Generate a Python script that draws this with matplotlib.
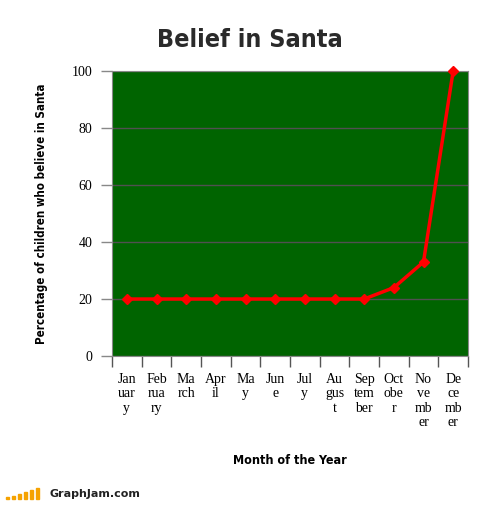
import matplotlib
matplotlib.use("Agg")
import matplotlib.pyplot as plt
import numpy as np
from matplotlib.patches import Rectangle
from matplotlib import font_manager

# chart data
months = ["Jan\nuar\ny", "Feb\nrua\nry", "Ma\nrch", "Apr\nil", "Ma\ny", "Jun\ne",
          "Jul\ny", "Au\ngus\nt", "Sep\ntem\nber", "Oct\nobe\nr", "No\nve\nmb\ner",
          "De\nce\nmb\ner"]
belief = [20, 20, 20, 20, 20, 20, 20, 20, 20, 24, 33, 100]
y_ticks = [0, 20, 40, 60, 80, 100]

serif = ["Liberation Serif", "DejaVu Serif"]
names = {f.name for f in font_manager.fontManager.ttflist}
narrow = "Liberation Sans Narrow" if "Liberation Sans Narrow" in names else "DejaVu Sans"

fig = plt.figure(figsize=(5, 5.05), dpi=100)
ax = fig.add_axes([0.224, 0.295, 0.712, 0.5644])
ax.set_facecolor("#006400")

x = np.arange(len(belief)) + 0.5
ax.plot(x, belief, color="#ff0000", lw=2.5, marker="D", ms=5.5, zorder=3, clip_on=False)

ax.set_xlim(0, len(belief))
ax.set_ylim(0, 100)

# category ticks at the boundaries, labels at the centers
ax.set_xticks(np.arange(len(belief) + 1))
ax.set_xticklabels([])
ax.set_xticks(x, minor=True)
ax.set_xticklabels(months, minor=True, fontfamily=serif, fontsize=10,
                   linespacing=1.15, va="top")
ax.tick_params(axis="x", which="major", length=8, width=1, color="#555555")
ax.tick_params(axis="x", which="minor", length=0, pad=12)

ax.set_yticks(y_ticks)
ax.set_yticklabels([str(v) for v in y_ticks], fontfamily=serif, fontsize=10)
ax.tick_params(axis="y", length=8, width=1, color="#888888", pad=6)
ax.yaxis.grid(True, color="#505050", lw=1)
ax.set_axisbelow(True)

for s in ax.spines.values():
    s.set_color("#888888")

ax.set_ylabel("Percentage of children who believe in Santa", fontfamily=narrow,
              fontstretch="condensed", fontweight="bold", fontsize=8.3)
ax.set_xlabel("Month of the Year", fontfamily=narrow, fontstretch="condensed",
              fontweight="bold", fontsize=9)
ax.xaxis.set_label_coords(0.5, -0.345)
ax.yaxis.set_label_coords(-0.18, 0.5)

fig.text(0.5, 0.92, "Belief in Santa", ha="center", va="center",
         fontfamily=narrow, fontstretch="condensed", fontweight="heavy",
         fontsize=18, color="#2a2a2a")

# GraphJam footer
bar_h = [2, 3, 5, 7, 9, 11]
for i, h in enumerate(bar_h):
    fig.patches.append(Rectangle((0.012 + i * 0.012, 0.012), 0.006, h / 505,
                                 transform=fig.transFigure, color="#f5a200"))
fig.text(0.098, 0.012, "GraphJam.com", fontsize=8, fontweight="bold",
         fontfamily="DejaVu Sans", color="#222222", va="bottom")

fig.savefig("out.png", dpi=100)
